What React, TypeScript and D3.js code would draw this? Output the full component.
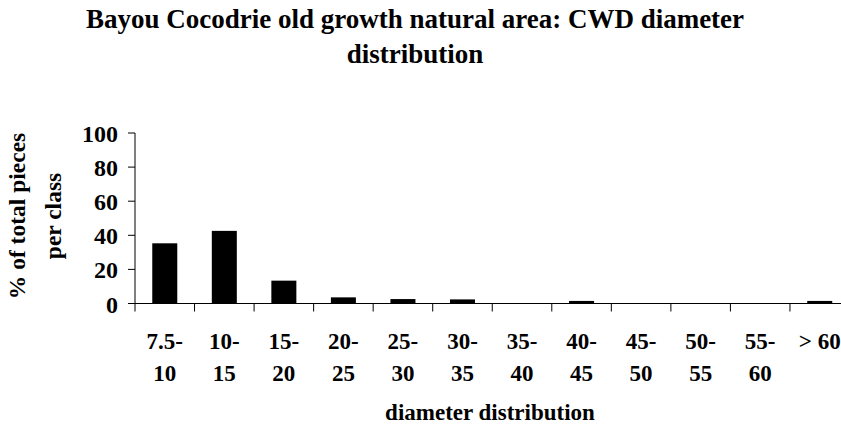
import React from "react";
import * as d3 from "d3";

const categories = ["7.5-10", "10-15", "15-20", "20-25", "25-30", "30-35", "35-40", "40-45", "45-50", "50-55", "55-60", ">60"];
const labelLine1 = ["7.5-", "10-", "15-", "20-", "25-", "30-", "35-", "40-", "45-", "50-", "55-", "> 60"];
const labelLine2 = ["10", "15", "20", "25", "30", "35", "40", "45", "50", "55", "60", ""];
const values = [35.3, 42.6, 13.4, 3.6, 2.6, 2.4, 0, 1.5, 0, 0, 0, 1.5];
const yTicks = [0, 20, 40, 60, 80, 100];

const W = 841;
const H = 429;
const FONT = "Liberation Serif";

export default function App() {
  const x = d3.scaleBand<string>().domain(categories).range([135, 849.5]).paddingInner(0.58).paddingOuter(0.29);
  const band = d3.scaleBand<string>().domain(categories).range([135, 849.5]).padding(0);
  const y = d3.scaleLinear().domain([0, 100]).range([303.5, 133]);

  return (
    <svg width={W} height={H} style={{ position: "absolute", left: 0, top: 0, background: "#fff", fontFamily: FONT, fontWeight: 700 }}>
      <rect x={0} y={0} width={W} height={H} fill="#fff" />
      <text x={415} y={28} textAnchor="middle" fontSize={27}>Bayou Cocodrie old growth natural area: CWD diameter</text>
      <text x={415} y={63} textAnchor="middle" fontSize={27}>distribution</text>

      <g transform="translate(25,216) rotate(-90)">
        <text x={0} y={0} textAnchor="middle" fontSize={23.5}>% of total pieces</text>
      </g>
      <g transform="translate(61,216) rotate(-90)">
        <text x={0} y={0} textAnchor="middle" fontSize={23.5}>per class</text>
      </g>

      {values.map((v, i) => (
        <rect key={categories[i]} x={x(categories[i])} y={y(v)} width={x.bandwidth()} height={y(0) - y(v)} fill="#000" />
      ))}

      <line x1={135} x2={135} y1={y(100)} y2={y(0)} stroke="#000" strokeWidth={1} />
      <line x1={135} x2={849.5} y1={y(0)} y2={y(0)} stroke="#000" strokeWidth={1} />
      {yTicks.map((t) => (
        <g key={t}>
          <line x1={128} x2={135} y1={y(t)} y2={y(t)} stroke="#000" />
          <text x={118} y={y(t) + 9} textAnchor="end" fontSize={24}>{t}</text>
        </g>
      ))}
      {categories.map((c) => (
        <line key={c} x1={band(c)} x2={band(c)} y1={y(0)} y2={y(0) + 8} stroke="#000" />
      ))}
      <line x1={849.5} x2={849.5} y1={y(0)} y2={y(0) + 8} stroke="#000" />
      {categories.map((c, i) => (
        <g key={c}>
          <text x={band(c)! + band.bandwidth() / 2} y={349} textAnchor="middle" fontSize={23}>{labelLine1[i]}</text>
          <text x={band(c)! + band.bandwidth() / 2} y={381} textAnchor="middle" fontSize={23}>{labelLine2[i]}</text>
        </g>
      ))}
      <text x={490} y={420} textAnchor="middle" fontSize={23}>diameter distribution</text>
    </svg>
  );
}
